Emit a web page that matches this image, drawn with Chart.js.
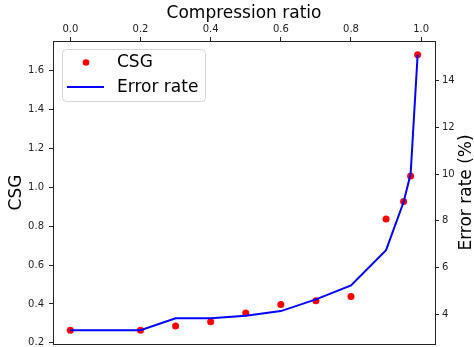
<!DOCTYPE html>
<html>
<head>
<meta charset="utf-8">
<script src="https://cdn.jsdelivr.net/npm/chart.js@4/dist/chart.umd.min.js"></script>
<style>
html,body{margin:0;padding:0;background:#fff;}
canvas{display:block;}
</style>
</head>
<body>
<canvas id="c" width="474" height="347"></canvas>
<script>
// ---- data ----
const compressionRatio = [0, 0.2, 0.3, 0.4, 0.5, 0.6, 0.7, 0.8, 0.9, 0.95, 0.97, 0.99];
const csgValues = [0.265, 0.265, 0.287, 0.308, 0.354, 0.397, 0.417, 0.438, 0.837, 0.927, 1.058, 1.682];
const errorRateValues = [3.31, 3.31, 3.82, 3.82, 3.93, 4.13, 4.63, 5.23, 6.74, 8.8, 10.0, 15.11];
const xTickValues = [0.0, 0.2, 0.4, 0.6, 0.8, 1.0];
const csgTickValues = [0.2, 0.4, 0.6, 0.8, 1.0, 1.2, 1.4, 1.6];
const errTickValues = [4, 6, 8, 10, 12, 14];
const seriesNames = ['CSG', 'Error rate'];
const xTitle = 'Compression ratio';
const leftTitle = 'CSG';
const rightTitle = 'Error rate (%)';

function padRange(arr) {
  const lo = Math.min(...arr), hi = Math.max(...arr), m = (hi - lo) * 0.05;
  return [lo - m, hi + m];
}
const xr = padRange(compressionRatio);
const lr = padRange(csgValues);
const rr = padRange(errorRateValues);

const FONT = "'DejaVu Sans', sans-serif";
const AXC = '#222';

function fixedTicks(values) {
  return function (scale) { scale.ticks = values.map(v => ({ value: v })); };
}
function fitter(prop, size) {
  return function (scale) {
    scale[prop] = size;
    scale.paddingTop = 0; scale.paddingBottom = 0;
    scale.paddingLeft = 0; scale.paddingRight = 0;
  };
}

const extras = {
  id: 'extras',
  afterDraw(chart) {
    const ctx = chart.ctx, a = chart.chartArea;
    ctx.save();
    // bottom border of the axes box
    ctx.strokeStyle = AXC; ctx.lineWidth = 1;
    ctx.beginPath(); ctx.moveTo(a.left, a.bottom + 0.5); ctx.lineTo(a.right, a.bottom + 0.5); ctx.stroke();
    // right axis title, reading bottom-to-top
    ctx.fillStyle = '#000';
    ctx.font = '17px ' + FONT;
    ctx.textAlign = 'center'; ctx.textBaseline = 'middle';
    ctx.translate(467, (a.top + a.bottom) / 2);
    ctx.rotate(-Math.PI / 2);
    ctx.fillText(rightTitle, 0, 0);
    ctx.restore();

    // legend
    ctx.save();
    const bx = 62.5, by = 49.5, bw = 143, bh = 52, r = 4;
    ctx.beginPath();
    ctx.moveTo(bx + r, by);
    ctx.arcTo(bx + bw, by, bx + bw, by + bh, r);
    ctx.arcTo(bx + bw, by + bh, bx, by + bh, r);
    ctx.arcTo(bx, by + bh, bx, by, r);
    ctx.arcTo(bx, by, bx + bw, by, r);
    ctx.closePath();
    ctx.fillStyle = 'rgba(255,255,255,0.8)';
    ctx.fill();
    ctx.strokeStyle = '#d6d6d6'; ctx.lineWidth = 1;
    ctx.stroke();
    ctx.fillStyle = '#ff0000';
    ctx.beginPath(); ctx.arc(86, 62.5, 3.3, 0, Math.PI * 2); ctx.fill();
    ctx.strokeStyle = '#0000ff'; ctx.lineWidth = 2;
    ctx.beginPath(); ctx.moveTo(67, 87); ctx.lineTo(104, 87); ctx.stroke();
    ctx.fillStyle = '#000';
    ctx.font = '17px ' + FONT;
    ctx.textAlign = 'left'; ctx.textBaseline = 'middle';
    ctx.fillText(seriesNames[0], 117, 63);
    ctx.fillText(seriesNames[1], 117, 87.5);
    ctx.restore();
  }
};

new Chart(document.getElementById('c'), {
  data: {
    datasets: [
      {
        type: 'scatter',
        label: seriesNames[0],
        data: compressionRatio.map((x, i) => ({ x: x, y: csgValues[i] })),
        yAxisID: 'yL',
        backgroundColor: '#ff0000',
        borderColor: '#ff0000',
        pointRadius: 3.5,
        pointBorderWidth: 0,
        showLine: false,
        order: 1
      },
      {
        type: 'line',
        label: seriesNames[1],
        data: compressionRatio.map((x, i) => ({ x: x, y: errorRateValues[i] })),
        yAxisID: 'yR',
        borderColor: '#0000ff',
        backgroundColor: '#0000ff',
        borderWidth: 2,
        pointRadius: 0,
        tension: 0,
        fill: false,
        order: 0
      }
    ]
  },
  options: {
    responsive: false,
    devicePixelRatio: 1,
    animation: false,
    layout: { autoPadding: false, padding: { left: 0, right: 0, top: 0, bottom: 3 } },
    plugins: { legend: { display: false }, tooltip: { enabled: false } },
    scales: {
      x: {
        type: 'linear',
        position: 'top',
        min: xr[0], max: xr[1],
        afterBuildTicks: fixedTicks(xTickValues),
        afterFit: fitter('height', 41),
        border: { display: true, color: AXC, width: 1 },
        grid: { drawOnChartArea: false, drawTicks: true, tickLength: 4, tickColor: AXC, color: AXC },
        ticks: { color: '#222', font: { family: FONT, size: 10 }, padding: 2, maxRotation: 0,
                 callback: v => Number(v).toFixed(1) },
        title: { display: true, text: xTitle, color: '#000', font: { family: FONT, size: 17 }, padding: { top: 3, bottom: 0 } }
      },
      yL: {
        type: 'linear',
        position: 'left',
        min: lr[0], max: lr[1],
        afterBuildTicks: fixedTicks(csgTickValues),
        afterFit: fitter('width', 53),
        border: { display: true, color: AXC, width: 1 },
        grid: { drawOnChartArea: false, drawTicks: true, tickLength: 4, tickColor: AXC, color: AXC },
        ticks: { color: '#222', font: { family: FONT, size: 10 }, padding: 5,
                 callback: v => Number(v).toFixed(1) },
        title: { display: true, text: leftTitle, color: '#000', font: { family: FONT, size: 17 }, padding: { top: 6, bottom: 0 } }
      },
      yR: {
        type: 'linear',
        position: 'right',
        min: rr[0], max: rr[1],
        afterBuildTicks: fixedTicks(errTickValues),
        afterFit: fitter('width', 39),
        border: { display: true, color: AXC, width: 1 },
        grid: { drawOnChartArea: false, drawTicks: true, tickLength: 4, tickColor: AXC, color: AXC },
        ticks: { color: '#222', font: { family: FONT, size: 10 }, padding: 3,
                 callback: v => String(Math.round(v)) },
        title: { display: false }
      }
    }
  },
  plugins: [extras]
});
</script>
</body>
</html>
